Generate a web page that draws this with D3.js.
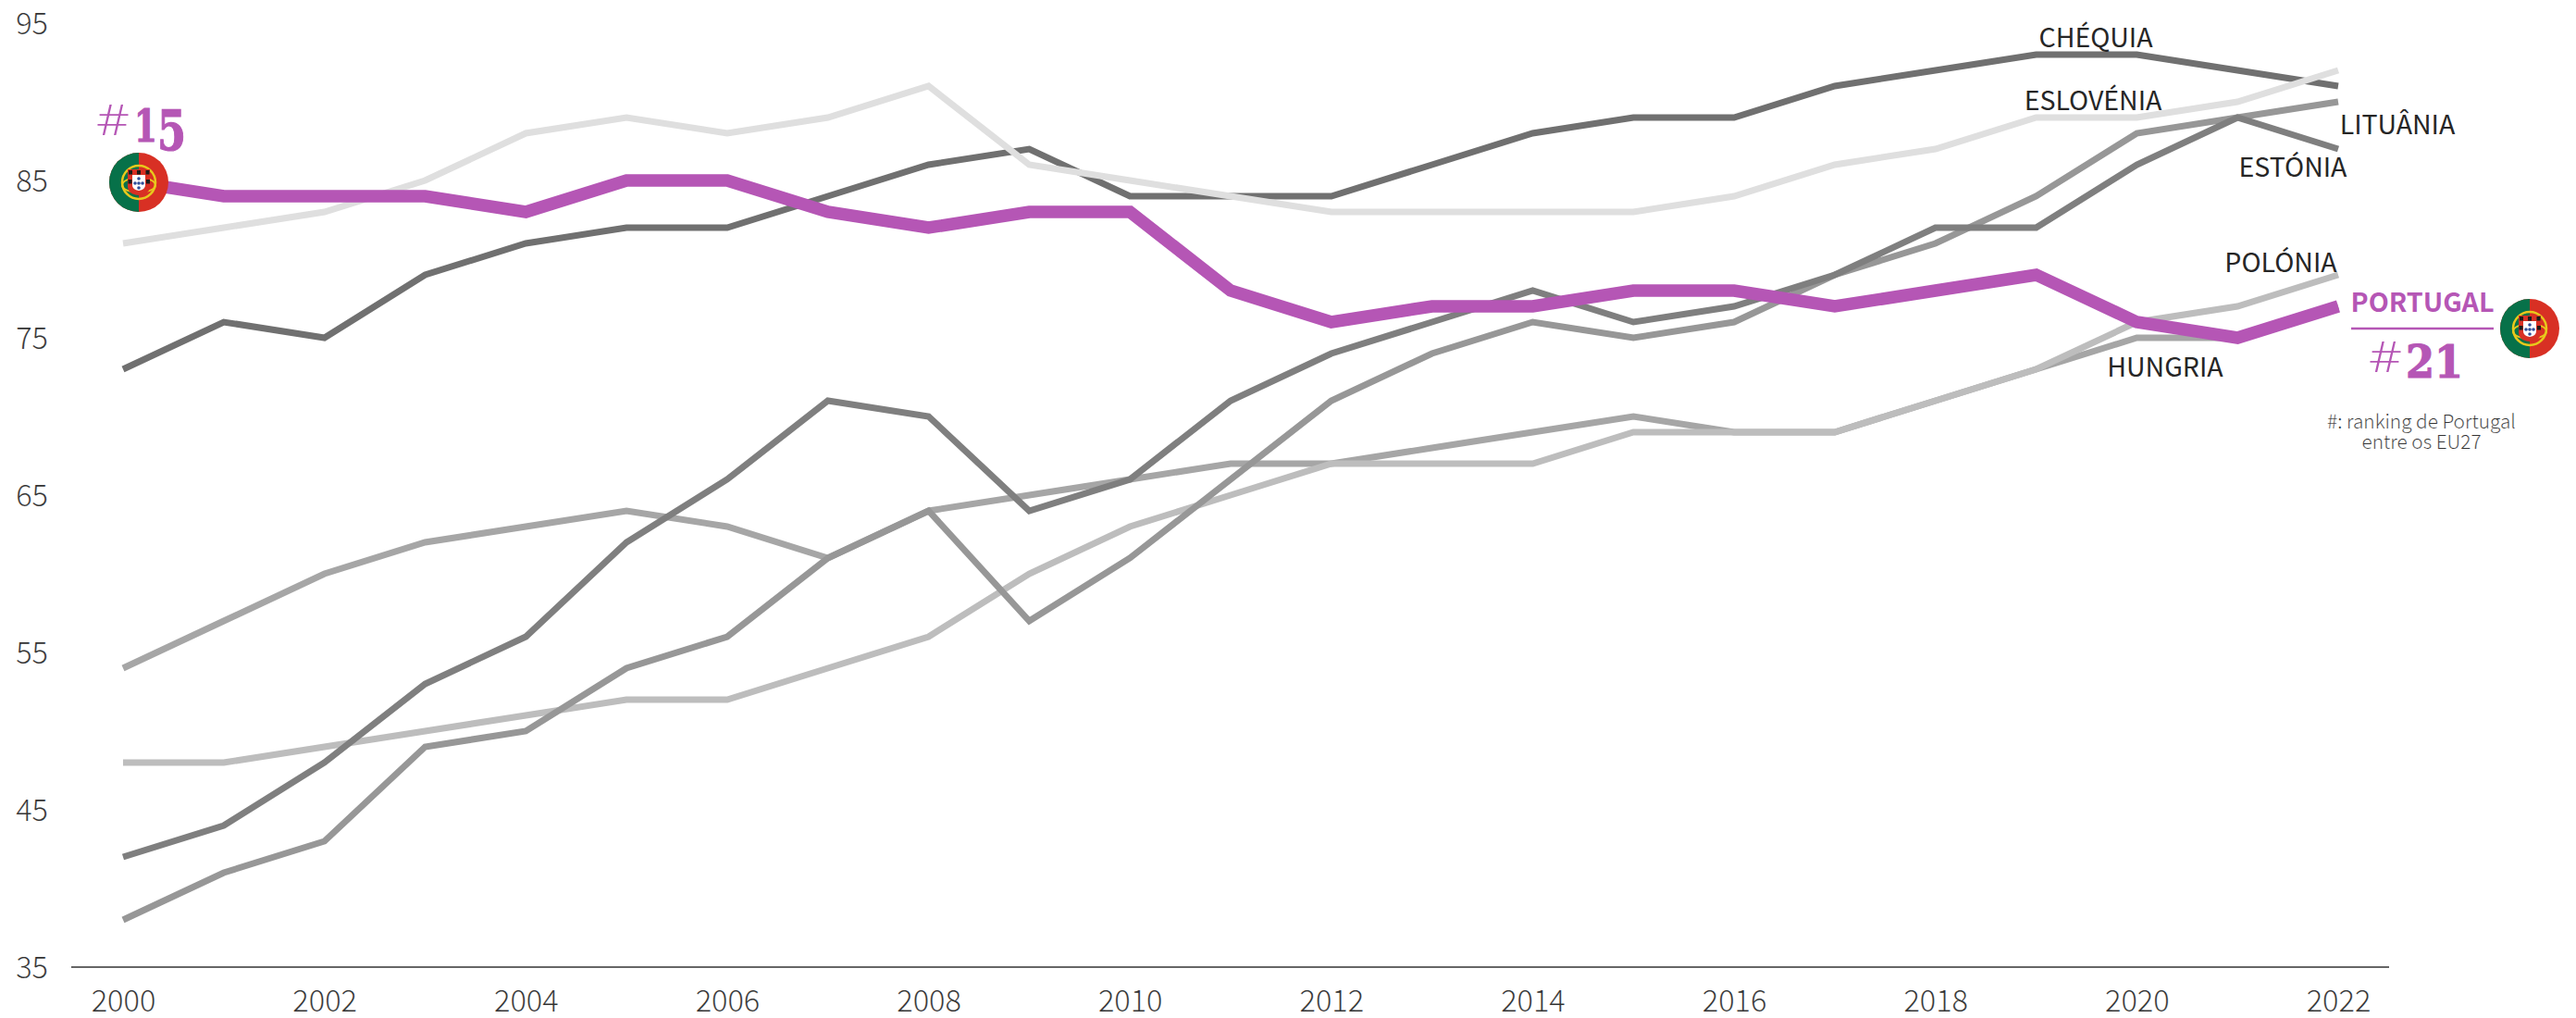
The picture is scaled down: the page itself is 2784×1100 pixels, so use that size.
<!DOCTYPE html>
<html><head><meta charset="utf-8">
<script src="https://cdn.jsdelivr.net/npm/d3@7"></script>
<style>
html,body{margin:0;padding:0;background:#fff}
svg{display:block}
text{font-family:"Noto Sans CJK SC","Noto Sans CJK JP","Noto Sans",sans-serif}
.light{font-weight:300;stroke:#fff;stroke-width:0.15px;paint-order:fill stroke}
</style></head><body><svg id="c" width="2784" height="1100"></svg>
<script>
const years = d3.range(2000, 2023);
const yTickValues = [35,45,55,65,75,85,95];
const xTickValues = d3.range(2000, 2023, 2);
const eslovenia = [81,82,83,85,88,89,88,89,91,86,85,84,83,83,83,83,84,86,87,89,89,90,92];
const polonia   = [48,48,49,50,51,52,52,54,56,60,63,65,67,67,67,69,69,69,71,73,76,77,79];
const hungria   = [54,57,60,62,63,64,63,61,64,65,66,67,67,68,69,70,69,69,71,73,75,75,77];
const lituania  = [38,41,43,49,50,54,56,61,64,57,61,66,71,74,76,75,76,79,81,84,88,89,90];
const estonia   = [42,44,48,53,56,62,66,71,70,64,66,71,74,76,78,76,77,79,82,82,86,89,87];
const chequia   = [73,76,75,79,81,82,82,84,86,87,84,84,84,86,88,89,89,91,92,93,93,92,91];
const portugal  = [85,84,84,84,83,85,85,83,82,83,83,78,76,77,77,78,78,77,78,79,76,75,77];

const svg = d3.select("#c");
const x = d3.scaleLinear().domain([2000,2022]).range([133,2527]);
const y = d3.scaleLinear().domain([35,95]).range([1045,25]);
const line = d3.line().x((d,i)=>x(years[i])).y(d=>y(d));

const series = [
  {v:hungria,c:"#a6a6a6",w:7},
  {v:polonia,c:"#bdbdbd",w:7},
  {v:lituania,c:"#979797",w:7},
  {v:estonia,c:"#7f7f7f",w:7},
  {v:chequia,c:"#707070",w:7},
  {v:eslovenia,c:"#dfdfdf",w:7},
  {v:portugal,c:"#b556b5",w:13.5}
];
svg.selectAll("path.s").data(series).join("path").attr("class","s")
  .attr("fill","none").attr("stroke",d=>d.c).attr("stroke-width",d=>d.w)
  .attr("stroke-linejoin","miter").attr("d",d=>line(d.v));

const gx = svg.append("g").attr("transform","translate(0,1045)")
  .call(d3.axisBottom(x).tickValues(xTickValues).tickFormat(d3.format("d")).tickSize(0).tickPadding(0));
gx.select(".domain").remove();
gx.selectAll("text").attr("class","light").attr("y",48).attr("dy",0).attr("font-size",32.5).attr("fill","#333").attr("font-family",null);
svg.append("line").attr("x1",x(2000)-56).attr("x2",x(2022)+55).attr("y1",y(35)).attr("y2",y(35))
  .attr("stroke","#333").attr("stroke-width",1.5);

const gy = svg.append("g").attr("transform","translate(52,0)")
  .call(d3.axisLeft(y).tickValues(yTickValues).tickFormat(d3.format("d")).tickSize(0).tickPadding(0));
gy.select(".domain").remove();
gy.selectAll("text").attr("class","light").attr("x",0).attr("dy","0.35em").attr("font-size",32.5).attr("fill","#333").attr("font-family",null);

const labels = [
  ["CHÉQUIA",2265,51],["ESLOVÉNIA",2262,119],["LITUÂNIA",2591,145],
  ["ESTÓNIA",2478,191],["POLÓNIA",2465,294],["HUNGRIA",2340,407]
];
svg.selectAll("text.lab").data(labels).join("text").attr("class","lab")
  .attr("x",d=>d[1]).attr("y",d=>d[2]).attr("text-anchor","middle")
  .attr("font-size",28.5).attr("fill","#262626").text(d=>d[0]);

const purple="#b556b5";
function rank(xh,xn,baseHash,base,a,b,w,drop){
  svg.append("text").attr("x",xh).attr("y",baseHash).attr("font-size",46)
   .attr("style","font-family:'Open Sans',sans-serif;font-weight:300").attr("fill",purple)
   .attr("textLength",36).attr("lengthAdjust","spacingAndGlyphs").text("#");
  const t=svg.append("text").attr("x",xn).attr("y",base).attr("font-size",48)
   .attr("style","font-family:'DejaVu Serif',serif;font-weight:bold").attr("fill",purple)
   .attr("stroke",purple).attr("stroke-width",1.2)
   .attr("textLength",w).attr("lengthAdjust","spacingAndGlyphs");
  t.append("tspan").text(a);
  t.append("tspan").attr("dy",drop).attr("font-size",drop?60:48).text(b);
}
rank(104,145,146,153,"1","5",56,9);
rank(2560,2600,402,408,"2","1",62,0);

svg.append("text").attr("x",2618).attr("y",337).attr("text-anchor","middle").attr("font-size",28.7)
  .attr("font-weight",700).attr("fill",purple).text("PORTUGAL");
svg.append("line").attr("x1",2541).attr("x2",2695).attr("y1",355).attr("y2",355).attr("stroke",purple).attr("stroke-width",2.5);
svg.append("text").attr("class","light").attr("x",2617).attr("y",463).attr("text-anchor","middle").attr("font-size",20.8).attr("fill","#333").text("#: ranking de Portugal");
svg.append("text").attr("class","light").attr("x",2617).attr("y",485).attr("text-anchor","middle").attr("font-size",20.8).attr("fill","#333").text("entre os EU27");

function flag(cx,cy,r){
  const g=svg.append("g").attr("transform",`translate(${cx},${cy}) scale(${r/32})`);
  g.append("circle").attr("r",32).attr("fill","#d83024");
  g.append("path").attr("d","M0,-32A32,32 0 0 0 0,32Z").attr("fill","#077149");
  g.append("circle").attr("r",18).attr("fill","none").attr("stroke","#e8c81c").attr("stroke-width",2.5);
  g.append("ellipse").attr("rx",18).attr("ry",8).attr("cy",3).attr("fill","none").attr("stroke","#e8c81c").attr("stroke-width",2);
  g.append("path").attr("d","M-12,-14H12V4Q12,13 0,14Q-12,13 -12,4Z").attr("fill","#d83024");
  g.append("path").attr("d","M-7,-8H7V3Q7,8 0,9Q-7,8 -7,3Z").attr("fill","#fff");
  [[0,-4],[-4,1],[0,1],[4,1],[0,6]].forEach(p=>g.append("circle").attr("cx",p[0]).attr("cy",p[1]).attr("r",1.8).attr("fill","#2f4f9a"));
  [[-11,-13],[-2,-13],[7.5,-13],[-11.5,-3],[8,-3]].forEach(p=>g.append("rect").attr("x",p[0]).attr("y",p[1]).attr("width",4).attr("height",4.5).attr("fill","#1c1c1c"));
}
flag(x(2000)+17,197,32);
flag(2734,355,32);
</script></body></html>
